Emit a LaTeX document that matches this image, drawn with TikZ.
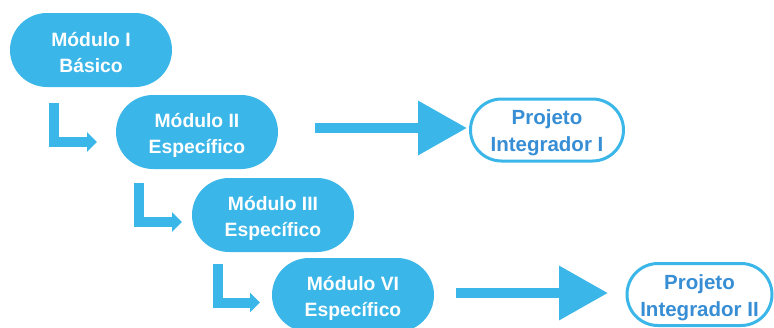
\documentclass[tikz,border=0pt]{standalone}
\usepackage{fontspec}
\setmainfont{Liberation Sans}
\usetikzlibrary{arrows.meta}
\definecolor{skyb}{RGB}{59,182,232}
\definecolor{txtb}{RGB}{56,142,212}
\tikzset{
  modtext/.style={text=white, align=center, inner sep=0pt, yshift=-3pt, font=\bfseries\fontsize{19.3}{26}\selectfont},
  projtext/.style={text=txtb, align=center, inner sep=0pt, yshift=-3pt, font=\bfseries\fontsize{20.5}{27}\selectfont},
  modbox/.style={fill=skyb, draw=none, rounded corners=37pt, minimum width=162pt, minimum height=74pt,
     inner sep=0pt, label={[modtext]center:{#1}}},
  projbox/.style={fill=white, draw=skyb, line width=3pt, rounded corners=31pt, minimum width=153pt, minimum height=62pt,
     inner sep=0pt, label={[projtext]center:{#1}}},
  elbow/.style={draw=skyb, line width=10pt, line join=miter, -{Triangle[length=10pt,width=19pt]}},
  bigarrow/.style={draw=skyb, line width=10pt, -{Triangle[length=49pt,width=52pt]}},
}
\begin{document}
\begin{tikzpicture}[x=1pt,y=-1pt]
\useasboundingbox (0,0) rectangle (774,327);
\node[modbox={Módulo I\\Básico}] (m1) at (91,50) {};
\node[modbox={Módulo II\\Específico}] (m2) at (197,132) {};
\node[modbox={Módulo III\\Específico}] (m3) at (273,215) {};
\node[modbox={Módulo VI\\Específico}] (m4) at (353,295) {};
\node[projbox={Projeto\\Integrador I}] (p1) at (547,130) {};
\node[projbox={Projeto\\Integrador II}, minimum width=145pt] (p2) at (699.5,294.5) {};
% elbow connectors
\coordinate (e1s) at (54,103);
\coordinate (e1e) at (97,142);
\draw[elbow] (e1s) |- (e1e);
\coordinate (e2s) at (139,183);
\coordinate (e2e) at (182,222);
\draw[elbow] (e2s) |- (e2e);
\coordinate (e3s) at (218,264);
\coordinate (e3e) at (260,302.5);
\draw[elbow] (e3s) |- (e3e);
% big arrows
\coordinate (b1s) at (315,128);
\coordinate (b1e) at (467,128);
\draw[bigarrow] (b1s) -- (b1e);
\coordinate (b2s) at (456,293);
\coordinate (b2e) at (608,293);
\draw[bigarrow] (b2s) -- (b2e);
\end{tikzpicture}
\end{document}
